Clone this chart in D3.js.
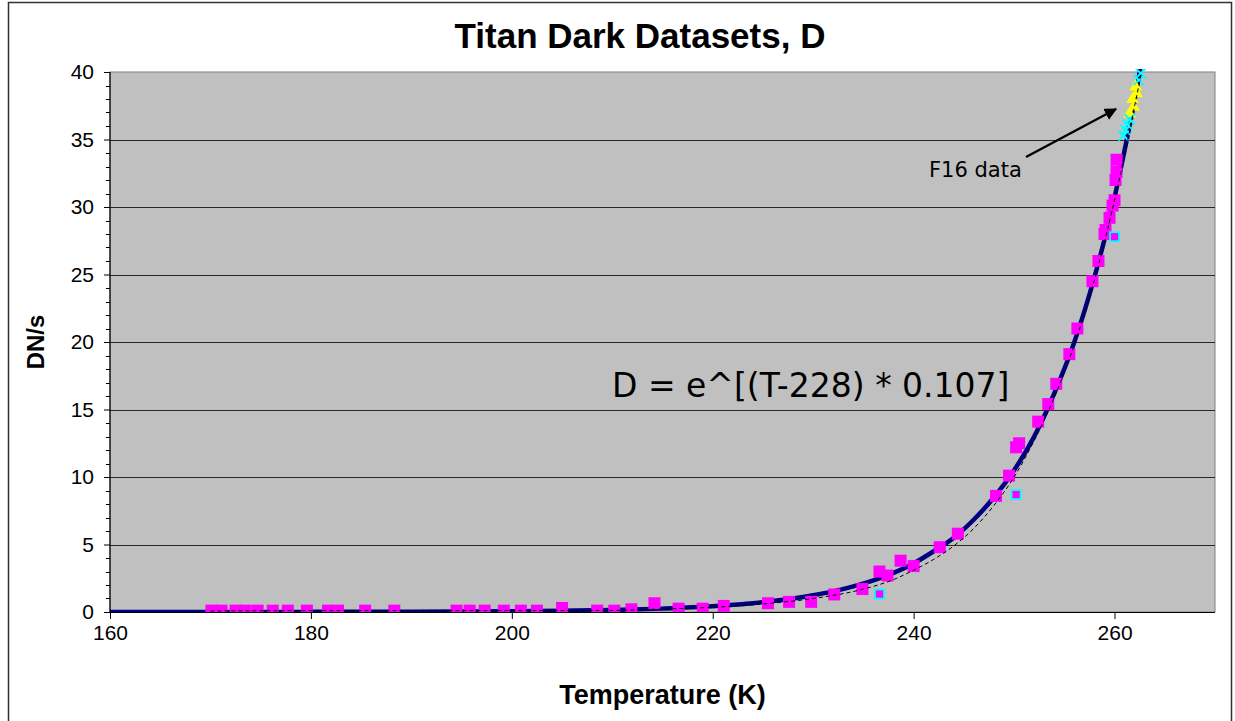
<!DOCTYPE html>
<html>
<head>
<meta charset="utf-8">
<script src="https://cdn.jsdelivr.net/npm/d3@7"></script>
<style>
  body { margin: 0; background: #ffffff; }
  svg { display: block; }
</style>
</head>
<body>
<svg id="chart" width="1235" height="721"></svg>
<script>
// Axis ticks
const xTicks = [160, 180, 200, 220, 240, 260];
const yTicks = [0, 5, 10, 15, 20, 25, 30, 35, 40];

// Fitted dark-rate curve (thick navy line)
const fitT = [160, 170, 180, 190, 200, 205, 210, 215, 220, 222, 224, 226, 228, 230, 232, 234, 236, 238, 240, 242, 244, 246, 248, 250, 252, 254, 256, 258, 259, 260, 261, 262, 262.6];
const fitD = [0.0, 0.0, 0.01, 0.02, 0.05, 0.09, 0.15, 0.25, 0.42, 0.53, 0.65, 0.81, 1.0, 1.24, 1.53, 1.9, 2.35, 2.9, 3.6, 4.5, 5.5, 6.85, 8.5, 10.5, 13.0, 16.2, 20.0, 24.8, 27.6, 30.7, 34.2, 37.9, 40.4];

// Secondary trend (thin dashed line)
const trendT = [170, 180, 190, 200, 210, 215, 220, 225, 230, 235, 238, 240, 242, 244, 246, 248, 250, 252, 254, 256, 258, 260, 261, 262, 262.7];
const trendD = [0.08, 0.1, 0.1, 0.1, 0.12, 0.22, 0.35, 0.6, 1.0, 1.7, 2.4, 3.1, 3.9, 4.9, 6.2, 7.9, 10.0, 12.7, 15.9, 19.8, 24.6, 30.5, 33.8, 37.5, 40.0];

// Titan dark datasets (magenta squares)
const darkT = [170.1, 171.1, 172.5, 173.5, 174.7, 176.2, 177.7, 179.6, 181.7, 182.7, 185.4, 188.3,
               194.5, 195.8, 197.3, 199.2, 200.9, 202.5, 205.0, 208.5, 210.2, 211.9, 214.2,
               216.6, 219.0, 221.1, 225.5, 227.6, 229.8, 232.1, 234.9, 236.6, 237.4, 238.7, 240.0,
               242.6, 244.4, 248.2, 249.5, 250.2, 250.5, 252.4, 253.4, 254.2, 255.5, 256.3,
               257.8, 258.4, 259.0, 259.1, 259.5, 259.8, 260.0, 260.1, 260.2, 260.2];
const darkD = [0.1, 0.1, 0.1, 0.1, 0.1, 0.1, 0.1, 0.1, 0.1, 0.1, 0.1, 0.1,
               0.1, 0.1, 0.1, 0.1, 0.1, 0.1, 0.3, 0.1, 0.1, 0.2, 0.65,
               0.25, 0.25, 0.45, 0.65, 0.75, 0.75, 1.3, 1.7, 3.0, 2.7, 3.8, 3.4,
               4.8, 5.8, 8.6, 10.1, 12.2, 12.5, 14.1, 15.4, 16.9, 19.1, 21.0,
               24.5, 26.0, 28.0, 28.3, 29.2, 30.1, 30.5, 32.0, 32.6, 33.5];

// Flagged datasets (small magenta squares with cyan outline)
const flaggedT = [236.6, 250.2, 260.0];
const flaggedD = [1.33, 8.7, 27.8];

// F16 data
const f16CrossT = [260.9, 261.1, 261.3, 261.5, 262.4, 262.6];
const f16CrossD = [35.3, 35.7, 36.1, 36.5, 39.4, 39.9];
const f16TriT = [261.5, 261.9, 261.8, 262.2, 262.1];
const f16TriD = [36.9, 37.4, 38.0, 38.4, 38.9];

const svg = d3.select('#chart');
const plot = { left: 110, right: 1215, top: 72, bottom: 612 };

const x = d3.scaleLinear().domain([160, 270]).range([plot.left, plot.right]);
const y = d3.scaleLinear().domain([0, 40]).range([plot.bottom, plot.top]);

const fontAxis = 'Arial, "Liberation Sans", sans-serif';
const fontNote = '"DejaVu Sans", Verdana, sans-serif';

// Outer chart frame
svg.append('rect')
  .attr('x', 8.5).attr('y', 2.5)
  .attr('width', 1223).attr('height', 740)
  .attr('fill', '#ffffff').attr('stroke', '#303030').attr('stroke-width', 1.5);

// Plot background
svg.append('rect')
  .attr('x', plot.left).attr('y', plot.top)
  .attr('width', plot.right - plot.left).attr('height', plot.bottom - plot.top)
  .attr('fill', '#c0c0c0').attr('stroke', '#808080').attr('stroke-width', 1);

// Horizontal gridlines
svg.append('g').selectAll('line')
  .data(yTicks.filter(v => v > 0 && v < 40))
  .join('line')
  .attr('x1', plot.left).attr('x2', plot.right)
  .attr('y1', d => Math.round(y(d)) + 0.5).attr('y2', d => Math.round(y(d)) + 0.5)
  .attr('stroke', '#2a2a2a').attr('stroke-width', 1);

svg.append('clipPath').attr('id', 'plotclip')
  .append('rect')
  .attr('x', plot.left).attr('y', plot.top - 3)
  .attr('width', plot.right - plot.left).attr('height', plot.bottom - plot.top + 3);

const g = svg.append('g').attr('clip-path', 'url(#plotclip)');

const line = d3.line().x(d => x(d[0])).y(d => y(d[1])).curve(d3.curveMonotoneX);

// Fitted curve
g.append('path')
  .datum(fitT.map((t, i) => [t, fitD[i]]))
  .attr('d', line)
  .attr('fill', 'none').attr('stroke', '#000080').attr('stroke-width', 4.5)
  .attr('stroke-linejoin', 'round');

// Dataset markers
const sq = 12;
g.append('g').selectAll('rect')
  .data(darkT.map((t, i) => [t, darkD[i]]))
  .join('rect')
  .attr('x', d => x(d[0]) - sq / 2).attr('y', d => y(d[1]) - sq / 2)
  .attr('width', sq).attr('height', sq)
  .attr('fill', '#ff00ff');

const fsq = 9;
g.append('g').selectAll('rect')
  .data(flaggedT.map((t, i) => [t, flaggedD[i]]))
  .join('rect')
  .attr('x', d => x(d[0]) - fsq / 2).attr('y', d => y(d[1]) - fsq / 2)
  .attr('width', fsq).attr('height', fsq)
  .attr('fill', '#ff00ff').attr('stroke', '#00ffff').attr('stroke-width', 1.8);

// F16 markers
g.append('g').selectAll('path')
  .data(f16TriT.map((t, i) => [t, f16TriD[i]]))
  .join('path')
  .attr('transform', d => `translate(${x(d[0])},${y(d[1])})`)
  .attr('d', d3.symbol(d3.symbolTriangle, 70))
  .attr('fill', '#ffff00');

g.append('g').selectAll('path')
  .data(f16CrossT.map((t, i) => [t, f16CrossD[i]]))
  .join('path')
  .attr('transform', d => `translate(${x(d[0])},${y(d[1])})`)
  .attr('d', 'M-5,-5L5,5M-5,5L5,-5')
  .attr('fill', 'none').attr('stroke', '#00ffff').attr('stroke-width', 2);

// Dashed trend over markers
g.append('path')
  .datum(trendT.map((t, i) => [t, trendD[i]]))
  .attr('d', line)
  .attr('fill', 'none').attr('stroke', '#000000').attr('stroke-width', 1)
  .attr('stroke-dasharray', '4,3');

// Axes
const yAxis = d3.axisLeft(y).tickValues(yTicks).tickSize(6).tickPadding(10).tickFormat(d3.format('d'));
const yg = svg.append('g').attr('transform', `translate(${plot.left},0)`).call(yAxis);
// minor ticks on value axis
svg.append('g').selectAll('line')
  .data(d3.range(0, 41).filter(v => v % 5 !== 0))
  .join('line')
  .attr('x1', plot.left - 4).attr('x2', plot.left)
  .attr('y1', d => Math.round(y(d)) + 0.5).attr('y2', d => Math.round(y(d)) + 0.5)
  .attr('stroke', '#000');

const xAxis = d3.axisBottom(x).tickValues(xTicks).tickSize(7).tickPadding(6).tickFormat(d3.format('d'));
const xg = svg.append('g').attr('transform', `translate(0,${plot.bottom})`).call(xAxis);

[yg, xg].forEach(a => {
  a.select('.domain').attr('stroke', '#000').attr('stroke-width', 1.2);
  a.selectAll('.tick line').attr('stroke', '#000');
  a.selectAll('.tick text').attr('font-family', fontAxis).attr('font-size', 21).attr('fill', '#000');
});
yg.select('.domain').attr('d', `M-6,${plot.bottom}.5H0V${plot.top}.5H-6`);
xg.select('.domain').attr('d', `M${plot.left},0.5H${plot.right}`);

// Title and axis titles
svg.append('text')
  .attr('x', 640).attr('y', 48)
  .attr('text-anchor', 'middle')
  .attr('font-family', fontAxis).attr('font-weight', 'bold').attr('font-size', 35)
  .text('Titan Dark Datasets, D');

svg.append('text')
  .attr('x', (plot.left + plot.right) / 2).attr('y', 704)
  .attr('text-anchor', 'middle')
  .attr('font-family', fontAxis).attr('font-weight', 'bold').attr('font-size', 27)
  .text('Temperature (K)');

svg.append('text')
  .attr('transform', `translate(44,${(plot.top + plot.bottom) / 2}) rotate(-90)`)
  .attr('text-anchor', 'middle')
  .attr('font-family', fontAxis).attr('font-weight', 'bold').attr('font-size', 24)
  .text('DN/s');

// Fit equation
svg.append('text')
  .attr('x', 612).attr('y', 397)
  .attr('font-family', fontNote).attr('font-size', 33)
  .attr('fill', '#000')
  .text('D = e^[(T-228) * 0.107]');

// F16 annotation with arrow
svg.append('text')
  .attr('x', 929).attr('y', 177)
  .attr('font-family', fontNote).attr('font-size', 21)
  .text('F16 data');

svg.append('defs').append('marker')
  .attr('id', 'arrowhead').attr('viewBox', '0 0 10 10')
  .attr('refX', 9).attr('refY', 5)
  .attr('markerWidth', 5).attr('markerHeight', 5)
  .attr('orient', 'auto')
  .append('path').attr('d', 'M0,0L10,5L0,10z').attr('fill', '#000');

svg.append('line')
  .attr('x1', 1026).attr('y1', 157)
  .attr('x2', 1116).attr('y2', 109)
  .attr('stroke', '#000').attr('stroke-width', 2.5)
  .attr('marker-end', 'url(#arrowhead)');
</script>
</body>
</html>
